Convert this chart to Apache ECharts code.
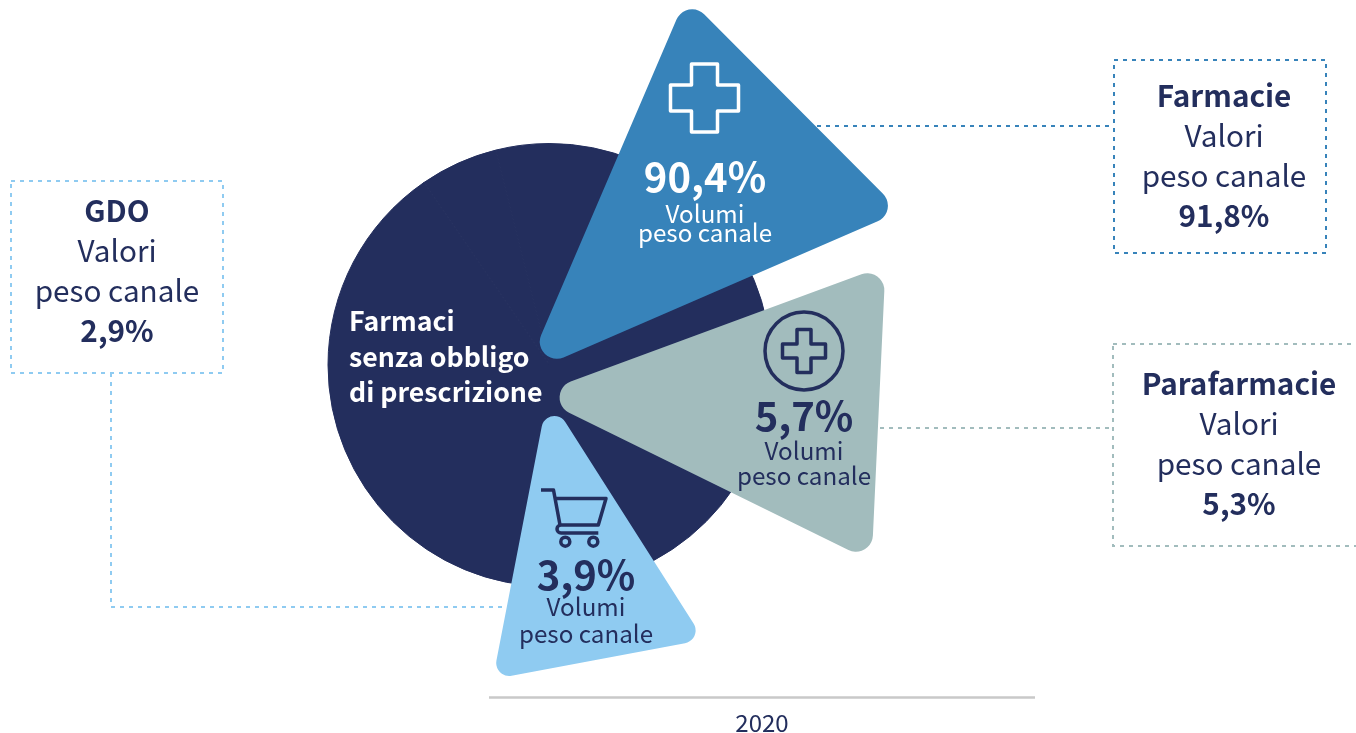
<!DOCTYPE html>
<html>
<head>
<meta charset="utf-8">
<title>Farmaci senza obbligo di prescrizione</title>
<script src="https://cdn.jsdelivr.net/npm/echarts@6/dist/echarts.min.js"></script>
<style>
  html, body { margin: 0; padding: 0; background: #fff; overflow: hidden; }
  #chart { width: 1356px; height: 733px; }
</style>
</head>
<body>
<div id="chart"></div>
<script>
var channels = ["Farmacie", "Parafarmacie", "GDO"];
var volumes = [90.4, 5.7, 3.9];
var values = [91.8, 5.3, 2.9];
var year = "2020";
var centerLines = ["Farmaci", "senza obbligo", "di prescrizione"];

var NAVY = "#232e5d";
var BLUE = "#3783ba";
var SAGE = "#a2bcbd";
var SKY = "#8fcbf1";
var FONT = '"Noto Sans CJK SC", "Noto Sans", sans-serif';

function pct(v) {
  return v.toFixed(1).replace(".", ",") + "%";
}

// triangolo con angoli arrotondati, come path svg
function roundedTriangle(pts, r) {
  var d = "";
  for (var i = 0; i < 3; i++) {
    var p = pts[i], a = pts[(i + 2) % 3], b = pts[(i + 1) % 3];
    var ax = a[0] - p[0], ay = a[1] - p[1], bx = b[0] - p[0], by = b[1] - p[1];
    var la = Math.hypot(ax, ay), lb = Math.hypot(bx, by);
    var ang = Math.acos((ax * bx + ay * by) / (la * lb));
    var t = r / Math.tan(ang / 2);
    var sweep = ax * by - ay * bx < 0 ? 1 : 0;
    var x1 = p[0] + ax / la * t, y1 = p[1] + ay / la * t;
    var x2 = p[0] + bx / lb * t, y2 = p[1] + by / lb * t;
    d += (i ? "L" : "M") + x1 + " " + y1 + " A" + r + " " + r + " 0 0 " + sweep + " " + x2 + " " + y2 + " ";
  }
  return d + "Z";
}

function label(text, x, y, size, weight, color, align) {
  return {
    type: "text", z: 30, x: x, y: y,
    style: { text: text, fill: color, font: weight + " " + size + "px " + FONT, textAlign: align || "center", textVerticalAlign: "middle" }
  };
}

function dashedLine(points, color) {
  return { type: "polyline", z: 0, shape: { points: points }, style: { stroke: color, fill: null, lineWidth: 2, lineDash: [4, 5] } };
}

function dashedBox(x, y, w, h, color) {
  return { type: "rect", z: 0, shape: { x: x, y: y, width: w, height: h }, style: { stroke: color, fill: null, lineWidth: 2, lineDash: [4, 5] } };
}

function crossPoints(cx, cy, half, arm) {
  return [
    [cx - arm, cy - half], [cx + arm, cy - half], [cx + arm, cy - arm], [cx + half, cy - arm],
    [cx + half, cy + arm], [cx + arm, cy + arm], [cx + arm, cy + half], [cx - arm, cy + half],
    [cx - arm, cy + arm], [cx - half, cy + arm], [cx - half, cy - arm], [cx - arm, cy - arm]
  ];
}

function outline(color) {
  return { stroke: color, fill: "none", lineWidth: 3.5, lineJoin: "round" };
}

// un triangolo con la sua icona per ogni canale
function renderChannel(params) {
  var kids = [];
  if (params.dataIndex === 0) {
    kids.push({ type: "path", shape: { pathData: roundedTriangle([[686.4, -3.5], [900.6, 211.4], [524.3, 374.4]], 17) }, style: { fill: BLUE } });
    kids.push({ type: "polygon", shape: { points: crossPoints(704.5, 98, 34, 13) }, style: outline("#fff") });
  } else if (params.dataIndex === 1) {
    kids.push({ type: "path", shape: { pathData: roundedTriangle([[533.5, 395.3], [885.5, 265.4], [871.7, 561.4]], 17) }, style: { fill: SAGE } });
    kids.push({ type: "circle", shape: { cx: 804, cy: 351, r: 39 }, style: outline(NAVY) });
    kids.push({ type: "polygon", shape: { points: crossPoints(804, 351, 21.5, 7) }, style: outline(NAVY) });
  } else {
    kids.push({ type: "path", shape: { pathData: roundedTriangle([[547.9, 394.6], [703.9, 639.6], [492.8, 679.2]], 13) }, style: { fill: SKY } });
    kids.push({ type: "path", shape: { pathData: "M541 490 L553.5 490 L560 525 L598.3 525 L606 498.5 L555 498.5 M598.3 533 L561 533 A4 4 0 0 1 561 525" }, style: outline(NAVY) });
    kids.push({ type: "circle", shape: { cx: 565.3, cy: 541.7, r: 4.5 }, style: outline(NAVY) });
    kids.push({ type: "circle", shape: { cx: 593.3, cy: 541.7, r: 4.5 }, style: outline(NAVY) });
  }
  return { type: "group", children: kids };
}

function boxText(i, cx, top) {
  return [
    label(channels[i], cx, top, 29.7, "bold", NAVY),
    label("Valori", cx, top + 40, 29.7, "normal", NAVY),
    label("peso canale", cx, top + 80, 29.7, "normal", NAVY),
    label(pct(values[i]), cx, top + 120, 29.7, "bold", NAVY)
  ];
}

function volumeText(i, cx, y, dy1, dy2, color) {
  return [
    label(pct(volumes[i]), cx, y, 40, "bold", color),
    label("Volumi", cx, y + dy1, 24.2, "normal", color),
    label("peso canale", cx, y + dy2, 24.2, "normal", color)
  ];
}

var elements = [
  // riquadri e linee tratteggiate
  dashedLine([[817, 126], [1114, 126]], BLUE),
  dashedBox(1114, 60, 212, 193, BLUE),
  dashedLine([[880, 428], [1113, 428]], SAGE),
  dashedBox(1113, 344, 260, 202, SAGE),
  dashedLine([[111, 373], [111, 607], [505, 607]], SKY),
  dashedBox(11, 181, 212, 192, SKY),

  // base
  { type: "line", z: 0, shape: { x1: 489, y1: 697.5, x2: 1035, y2: 697.5 }, style: { stroke: "#c9c9c9", lineWidth: 2.5 } },
  label(year, 762, 723, 24, "normal", NAVY)
];

centerLines.forEach(function (t, i) {
  elements.push(label(t, 349, 321 + i * 35.5, 26.7, "bold", "#fff", "left"));
});
elements = elements
  .concat(boxText(0, 1224, 96))
  .concat(boxText(1, 1239, 383.5))
  .concat(boxText(2, 117, 210.5))
  .concat(volumeText(0, 705, 177, 37, 56, "#fff"))
  .concat(volumeText(1, 804, 416, 35, 60, NAVY))
  .concat(volumeText(2, 586, 575, 32, 59, NAVY));

var myChart = echarts.init(document.getElementById("chart"), null, { renderer: "canvas" });
var option = {
  backgroundColor: "#fff",
  animation: false,
  series: [
    {
      type: "pie",
      z: 1,
      silent: true,
      center: [549.5, 365],
      radius: [0, 221.5],
      label: { show: false },
      labelLine: { show: false },
      itemStyle: { color: NAVY, borderColor: NAVY, borderWidth: 1 },
      data: channels.map(function (name, i) {
        return { name: name, value: volumes[i] };
      })
    },
    {
      type: "custom",
      z: 3,
      silent: true,
      coordinateSystem: "none",
      renderItem: renderChannel,
      data: volumes
    }
  ],
  graphic: { elements: elements }
};
option && myChart.setOption(option);
</script>
</body>
</html>
